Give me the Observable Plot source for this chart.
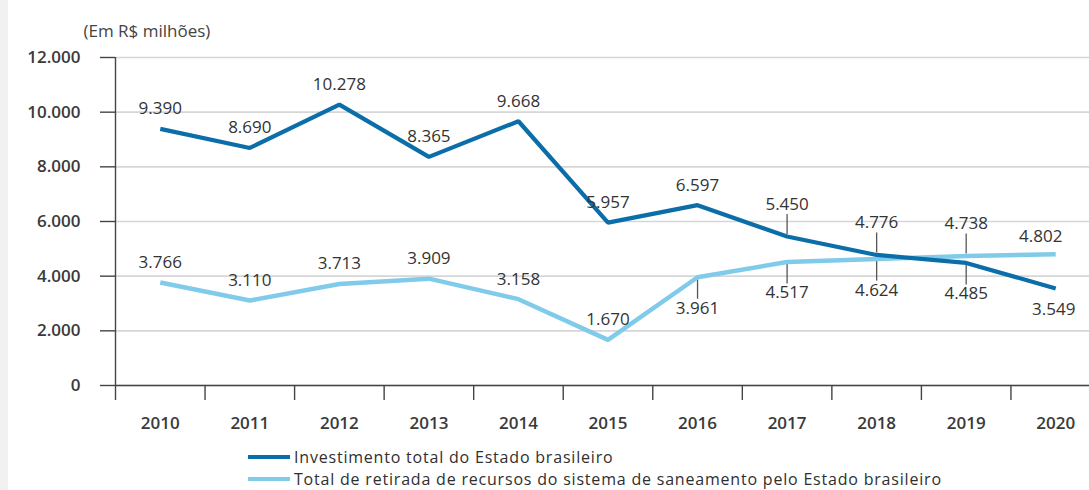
<!DOCTYPE html>
<html>
<head>
<meta charset="utf-8">
<script src="https://cdn.jsdelivr.net/npm/d3@7"></script>
<script src="https://cdn.jsdelivr.net/npm/@observablehq/plot@0.6"></script>
<style>
  html, body { margin: 0; padding: 0; background: #fff; overflow: hidden; }
  body { width: 1089px; height: 490px; position: relative; font-family: "Open Sans", sans-serif; color: #333; }
  #strip { position: absolute; left: 0; top: 0; width: 8px; height: 490px; background: #f1f1f1; }
  #chart { position: absolute; left: 0; top: 0; width: 1100px; }
  #chart svg { max-width: none !important; width: 1100px !important; height: 440px !important; }
  #legend { position: absolute; left: 248px; top: 446px; font-size: 16px; line-height: 22px; color: #2f2f2f; letter-spacing: 0.8px; }
  .item { display: flex; align-items: center; white-space: nowrap; height: 22px; }
  .sw { width: 42px; height: 4px; margin-right: 4px; flex: none; }
</style>
</head>
<body>
<div id="strip"></div>
<div id="chart"></div>
<div id="legend"></div>
<script>
const years = [2010, 2011, 2012, 2013, 2014, 2015, 2016, 2017, 2018, 2019, 2020];
const investimento = [9390, 8690, 10278, 8365, 9668, 5957, 6597, 5450, 4776, 4485, 3549];
const retirada = [3766, 3110, 3713, 3909, 3158, 1670, 3961, 4517, 4624, 4738, 4802];
const yTicks = [0, 2000, 4000, 6000, 8000, 10000, 12000];
const seriesNames = ["Investimento total do Estado brasileiro", "Total de retirada de recursos do sistema de saneamento pelo Estado brasileiro"];
const colors = ["#0b6ea8", "#80cbea"];
const unitLabel = "(Em R$ milhões)";

const fmt = v => d3.format(",")(v).replace(/,/g, ".");

const rows = [];
years.forEach((yr, i) => {
  rows.push({year: yr, value: investimento[i], s: 0, other: retirada[i]});
  rows.push({year: yr, value: retirada[i], s: 1, other: investimento[i]});
});
// label placement: before 2016 both above; from 2016 the higher label goes above, the lower below
rows.forEach(r => {
  r.above = r.year < 2016 ? true : r.value > r.other;
  r.leader = r.year !== 2020 && ((r.year >= 2017) || (r.year === 2016 && !r.above));
  r.last = r.year === 2020;
});

const W = 1100, H = 440, mt = 57, mb = 55, ml = 115, mr = 0;
const pxPerUnit = (H - mt - mb) / 12000;
const u = px => px / pxPerUnit;
const halfTicks = d3.range(2009.5, 2021, 1);

const labelText = (filter, opts) => Plot.text(rows.filter(filter), {
  x: "year", y: "value", text: r => fmt(r.value), fill: "#333", fontSize: 17, ...opts
});

const plot = Plot.plot({
  width: W, height: H,
  marginTop: mt, marginBottom: mb, marginLeft: ml, marginRight: mr,
  style: {fontFamily: "Open Sans, sans-serif", fontSize: "17px", color: "#333", background: "transparent", overflow: "visible"},
  x: {domain: [2009.5, 2020.5]},
  y: {domain: [0, 12000]},
  marks: [
    Plot.gridY(yTicks, {stroke: "#d6d6d6", strokeOpacity: 1, strokeWidth: 1.6}),
    Plot.axisY(yTicks, {tickSize: 15, tickPadding: 20, tickFormat: fmt, stroke: "#444", strokeWidth: 1.4, fontWeight: 600, fill: "#3a3a3a", fontSize: 17, label: null}),
    Plot.axisX(halfTicks, {tickSize: 15, tickFormat: () => "", stroke: "#444", strokeWidth: 1.4, label: null}),
    Plot.ruleY([0], {stroke: "#444", strokeWidth: 1.6}),
    Plot.ruleX([2009.5], {y1: 0, y2: 12000, stroke: "#444", strokeWidth: 1.4}),
    Plot.text(years, {x: d => d, y: 0, dy: 38, text: d => String(d), fontWeight: 600, fill: "#3a3a3a", fontSize: 17}),
    Plot.text([unitLabel], {frameAnchor: "top-left", dx: -32, dy: -33, textAnchor: "start", fill: "#444", fontSize: 17}),
    Plot.ruleX(rows.filter(r => r.leader), {
      x: "year",
      y1: r => r.value + (r.above ? u(2) : -u(2)),
      y2: r => r.value + (r.above ? u(22) : -u(22)),
      stroke: "#555", strokeWidth: 1.3
    }),
    Plot.line(years.map((y, i) => ({year: y, value: retirada[i]})), {x: "year", y: "value", stroke: colors[1], strokeWidth: 4.5, strokeLinejoin: "miter", strokeLinecap: "butt"}),
    Plot.line(years.map((y, i) => ({year: y, value: investimento[i]})), {x: "year", y: "value", stroke: colors[0], strokeWidth: 4.2, strokeLinejoin: "miter", strokeLinecap: "butt"}),
    labelText(r => r.above && !r.leader && !r.last, {dy: -20}),
    labelText(r => r.above && r.leader, {dy: -32}),
    labelText(r => !r.above && !r.last, {dy: 31}),
    labelText(r => r.last && r.above, {dy: -18, dx: -15}),
    labelText(r => r.last && !r.above, {dy: 21, dx: -2})
  ]
});
document.getElementById("chart").appendChild(plot);

const legend = document.getElementById("legend");
seriesNames.forEach((n, i) => {
  const d = document.createElement("div");
  d.className = "item";
  d.innerHTML = `<span class="sw" style="background:${colors[i]}"></span><span>${n}</span>`;
  legend.appendChild(d);
});
</script>
</body>
</html>
